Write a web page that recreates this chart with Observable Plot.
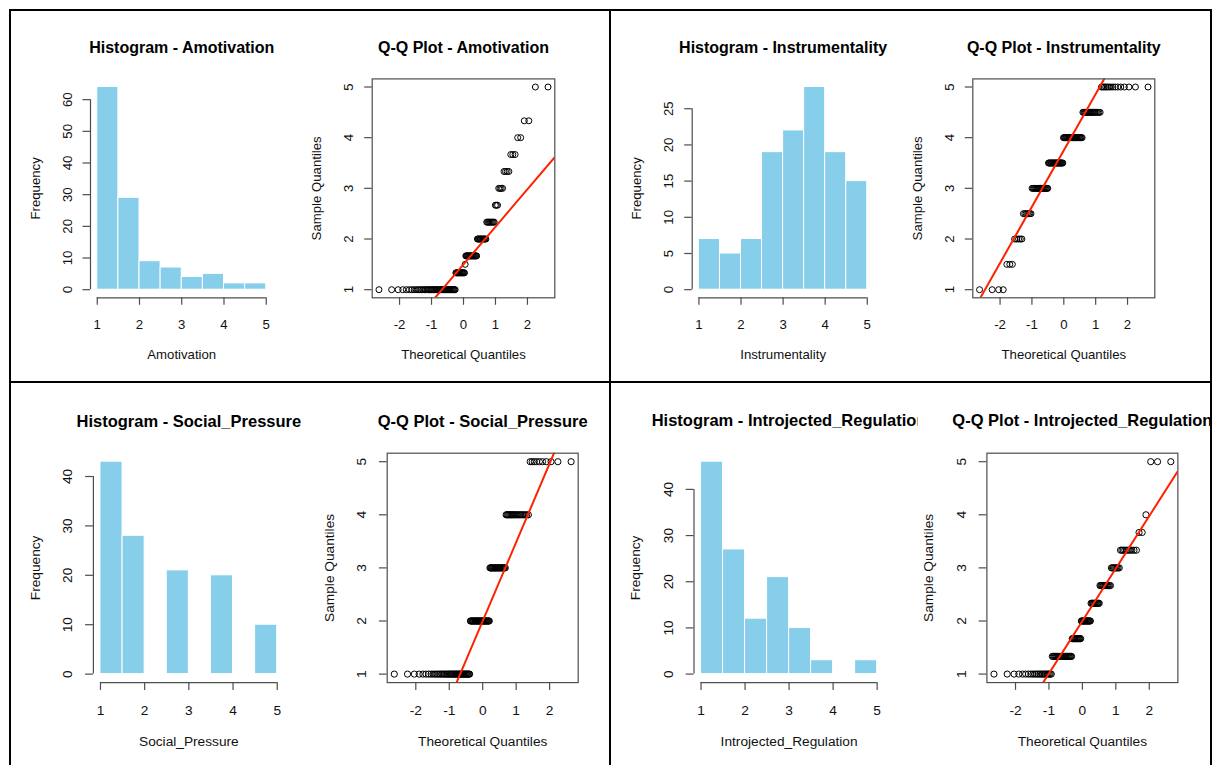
<!DOCTYPE html>
<html>
<head>
<meta charset="utf-8">
<script src="https://cdn.jsdelivr.net/npm/d3@7"></script>
<script src="https://cdn.jsdelivr.net/npm/@observablehq/plot@0.6"></script>
<style>
  html, body { margin: 0; padding: 0; background: #fff; }
  #page { position: relative; width: 1214px; height: 765px; overflow: hidden; background: #fff;
          font-family: "Liberation Sans", Arial, Helvetica, sans-serif; }
  .cell { position: absolute; overflow: hidden; }
  .cell svg { display: block; max-width: none !important; }
  .rule { position: absolute; background: #000; }
</style>
</head>
<body>
<div id="page"></div>
<script>
// ---- Histogram bins (breaks shared by all four scales) ----
const breaks = [1, 1.5, 2, 2.5, 3, 3.5, 4, 4.5, 5];
const amotivationCounts     = [64, 29, 9, 7, 4, 5, 2, 2];
const instrumentalityCounts = [7, 5, 7, 19, 22, 28, 19, 15];
const socialPressureCounts  = [43, 28, 0, 21, 0, 20, 0, 10];
const introjectedCounts     = [46, 27, 12, 21, 10, 3, 0, 3];

// ---- Distinct scale scores and the number of respondents at each ----
const amotivationLevels     = [1, 1.333, 1.5, 1.667, 2, 2.333, 2.667, 3, 3.333, 3.667, 4, 4.333, 5];
const amotivationN          = [49, 14, 1, 17, 12, 9, 3, 4, 4, 3, 2, 2, 2];
const instrumentalityLevels = [1, 1.5, 2, 2.5, 3, 3.5, 4, 4.5, 5];
const instrumentalityN      = [4, 3, 5, 7, 19, 22, 28, 19, 15];
const socialPressureLevels  = [1, 2, 3, 4, 5];
const socialPressureN       = [43, 28, 21, 20, 10];
const introjectedLevels     = [1, 1.333, 1.667, 2, 2.333, 2.667, 3, 3.333, 3.667, 4, 5];
const introjectedN          = [22, 24, 13, 14, 12, 13, 8, 10, 2, 1, 3];

// ---- Tick labels ----
const histXTicks = [1, 2, 3, 4, 5];
const amotivationYTicks     = [0, 10, 20, 30, 40, 50, 60];
const instrumentalityYTicks = [0, 5, 10, 15, 20, 25];
const socialPressureYTicks  = [0, 10, 20, 30, 40];
const introjectedYTicks     = [0, 10, 20, 30, 40];
const qqXTicks = [-2, -1, 0, 1, 2];
const qqYTicks = [1, 2, 3, 4, 5];

// ---- Layout of the 2 x 2 grid (page pixels) ----
const rowLayout = {
  top:    { cellTop: 11,  cellBottom: 381, plotTop: 78.4,  plotBottom: 297.3, font: 13.2, titleFont: 16,
            titleDy: -26.4, xTickDy: 31, xTitleDy: 61.5, yTickDx: -23, yTitleDx: -55, tick: 7.5, r: 3 },
  bottom: { cellTop: 383, cellBottom: 765, plotTop: 452.7, plotBottom: 682.1, font: 13.7, titleFont: 16.5,
            titleDy: -26.7, xTickDy: 32, xTitleDy: 63.5, yTickDx: -25.5, yTitleDx: -58, tick: 7.8, r: 3.1 }
};

const panels = [
  { name: "Amotivation", counts: amotivationCounts, yTicks: amotivationYTicks,
    levels: amotivationLevels, n: amotivationN, row: "top",
    hist: { cell: [11, 308], plot: [90, 272.5] }, qq: { cell: [308, 609], plot: [371.7, 554.3] } },
  { name: "Instrumentality", counts: instrumentalityCounts, yTicks: instrumentalityYTicks,
    levels: instrumentalityLevels, n: instrumentalityN, row: "top",
    hist: { cell: [611, 910], plot: [691.7, 873.5] }, qq: { cell: [910, 1210], plot: [972.3, 1154.3] } },
  { name: "Social_Pressure", counts: socialPressureCounts, yTicks: socialPressureYTicks,
    levels: socialPressureLevels, n: socialPressureN, row: "bottom",
    hist: { cell: [11, 318], plot: [92.9, 283.8] }, qq: { cell: [318, 609], plot: [386.7, 577.7] } },
  { name: "Introjected_Regulation", counts: introjectedCounts, yTicks: introjectedYTicks,
    levels: introjectedLevels, n: introjectedN, row: "bottom",
    hist: { cell: [611, 918.3], plot: [693.5, 883.7] }, qq: { cell: [918.3, 1210], plot: [986.7, 1177.7] } }
];

const axisColor = "#4d4d4d";
const fontFamily = "\"Liberation Sans\", Arial, Helvetica, sans-serif";

// Extend a range by 4% on each side, as base R graphics do.
function pad([lo, hi]) {
  const d = (hi - lo) * 0.04;
  return [lo - d, hi + d];
}

// Inverse of the standard normal CDF (Acklam's rational approximation).
function qnorm(p) {
  const a = [-3.969683028665376e+01, 2.209460984245205e+02, -2.759285104469687e+02,
             1.383577518672690e+02, -3.066479806614716e+01, 2.506628277459239e+00];
  const b = [-5.447609879822406e+01, 1.615858368580409e+02, -1.556989798598866e+02,
             6.680131188771972e+01, -1.328068155288572e+01];
  const c = [-7.784894002430293e-03, -3.223964580411365e-01, -2.400758277161838e+00,
             -2.549732539343734e+00, 4.374664141464968e+00, 2.938163982698783e+00];
  const d = [7.784695709041462e-03, 3.224671290700398e-01, 2.445134137142996e+00,
             3.754408661907416e+00];
  const pl = 0.02425, ph = 1 - pl;
  if (p < pl) {
    const q = Math.sqrt(-2 * Math.log(p));
    return (((((c[0]*q+c[1])*q+c[2])*q+c[3])*q+c[4])*q+c[5]) / ((((d[0]*q+d[1])*q+d[2])*q+d[3])*q+1);
  }
  if (p > ph) {
    const q = Math.sqrt(-2 * Math.log(1 - p));
    return -(((((c[0]*q+c[1])*q+c[2])*q+c[3])*q+c[4])*q+c[5]) / ((((d[0]*q+d[1])*q+d[2])*q+d[3])*q+1);
  }
  const q = p - 0.5, r = q * q;
  return (((((a[0]*r+a[1])*r+a[2])*r+a[3])*r+a[4])*r+a[5])*q /
         (((((b[0]*r+b[1])*r+b[2])*r+b[3])*r+b[4])*r+1);
}

// Shared frame geometry for one sub-plot.
function frameOptions(L, spec) {
  return {
    width: spec.cell[1] - spec.cell[0],
    height: L.cellBottom - L.cellTop,
    marginLeft: spec.plot[0] - spec.cell[0],
    marginRight: spec.cell[1] - spec.plot[1],
    marginTop: L.plotTop - L.cellTop,
    marginBottom: L.cellBottom - L.plotBottom,
    style: { fontFamily, fontSize: L.font + "px", background: "transparent", overflow: "hidden" }
  };
}

// Outward ticks, rotated y labels, title and axis titles.
function labelMarks(L, { title, xLabel, yLabel, xTicks, yTicks }) {
  return [
    Plot.axisX({ ticks: xTicks, tickSize: L.tick, stroke: axisColor, strokeWidth: 1.2,
                 tickFormat: () => "", fill: "none", label: null }),
    Plot.axisY({ ticks: yTicks, tickSize: L.tick, stroke: axisColor, strokeWidth: 1.2,
                 tickFormat: () => "", fill: "none", label: null }),
    Plot.text(xTicks, { x: d => d, text: d => String(d), frameAnchor: "bottom", dy: L.xTickDy,
                        lineAnchor: "bottom", fontSize: L.font, fill: "#111" }),
    Plot.text(yTicks, { y: d => d, text: d => String(d), frameAnchor: "left", dx: L.yTickDx,
                        rotate: -90, textAnchor: "middle", lineAnchor: "middle",
                        fontSize: L.font, fill: "#111" }),
    Plot.text([title], { frameAnchor: "top", dy: L.titleDy, lineAnchor: "bottom",
                         fontSize: L.titleFont, fontWeight: "bold", fill: "#000" }),
    Plot.text([xLabel], { frameAnchor: "bottom", dy: L.xTitleDy, lineAnchor: "bottom",
                          fontSize: L.font, fill: "#111" }),
    Plot.text([yLabel], { frameAnchor: "left", dx: L.yTitleDx, rotate: -90,
                          textAnchor: "middle", lineAnchor: "middle",
                          fontSize: L.font, fill: "#111" })
  ];
}

function histogram(p) {
  const L = rowLayout[p.row];
  const bins = p.counts.map((count, i) => ({ x1: breaks[i], x2: breaks[i + 1], count }));
  const xd = pad([breaks[0], breaks[breaks.length - 1]]);
  const yd = pad([0, d3.max(p.counts)]);
  return Plot.plot({
    ...frameOptions(L, p.hist),
    x: { domain: xd, axis: null },
    y: { domain: yd, axis: null },
    marks: [
      Plot.rect(bins, { x1: "x1", x2: "x2", y1: () => 0, y2: "count",
                        fill: "#87CEEB", stroke: "white", strokeWidth: 1 }),
      Plot.ruleY([yd[0]], { x1: histXTicks[0], x2: histXTicks[histXTicks.length - 1],
                            stroke: axisColor, strokeWidth: 1.2 }),
      Plot.ruleX([xd[0]], { y1: p.yTicks[0], y2: p.yTicks[p.yTicks.length - 1],
                            stroke: axisColor, strokeWidth: 1.2 }),
      ...labelMarks(L, { title: `Histogram - ${p.name}`, xLabel: p.name, yLabel: "Frequency",
                         xTicks: histXTicks, yTicks: p.yTicks })
    ]
  });
}

function qqPlot(p) {
  const L = rowLayout[p.row];
  const sample = p.levels.flatMap((v, i) => Array(p.n[i]).fill(v)).sort(d3.ascending);
  const n = sample.length;
  const pts = sample.map((v, i) => ({ theo: qnorm((i + 0.5) / n), v }));
  const xd = pad(d3.extent(pts, d => d.theo));
  const yd = pad(d3.extent(sample));
  // Reference line through the first and third quartiles
  const q1 = d3.quantile(sample, 0.25), q3 = d3.quantile(sample, 0.75);
  const slope = (q3 - q1) / (qnorm(0.75) - qnorm(0.25));
  const intercept = q1 - slope * qnorm(0.25);
  const ref = xd.map(x => ({ x, y: intercept + slope * x }));
  return Plot.plot({
    ...frameOptions(L, p.qq),
    x: { domain: xd, axis: null },
    y: { domain: yd, axis: null },
    marks: [
      Plot.dot(pts, { x: "theo", y: "v", r: L.r, stroke: "#000", fill: "none", strokeWidth: 1 }),
      Plot.line(ref, { x: "x", y: "y", stroke: "#ff2200", strokeWidth: 2, clip: true }),
      Plot.frame({ stroke: axisColor, strokeWidth: 1.2 }),
      ...labelMarks(L, { title: `Q-Q Plot - ${p.name}`, xLabel: "Theoretical Quantiles",
                         yLabel: "Sample Quantiles", xTicks: qqXTicks, yTicks: qqYTicks })
    ]
  });
}

const page = document.getElementById("page");

function place(node, spec, L) {
  const div = document.createElement("div");
  div.className = "cell";
  div.style.left = spec.cell[0] + "px";
  div.style.top = L.cellTop + "px";
  div.style.width = (spec.cell[1] - spec.cell[0]) + "px";
  div.style.height = (L.cellBottom - L.cellTop) + "px";
  div.appendChild(node);
  page.appendChild(div);
}

for (const p of panels) {
  const L = rowLayout[p.row];
  place(histogram(p), p.hist, L);
  place(qqPlot(p), p.qq, L);
}

// Lines separating the four panels
const gridLines = [
  { left: 9, top: 9, width: 1203, height: 2 },
  { left: 9, top: 381, width: 1203, height: 2 },
  { left: 9, top: 9, width: 2, height: 756 },
  { left: 609, top: 9, width: 2, height: 756 },
  { left: 1210, top: 9, width: 2, height: 756 }
];
for (const g of gridLines) {
  const div = document.createElement("div");
  div.className = "rule";
  Object.assign(div.style, { left: g.left + "px", top: g.top + "px", width: g.width + "px", height: g.height + "px" });
  page.appendChild(div);
}
</script>
</body>
</html>
